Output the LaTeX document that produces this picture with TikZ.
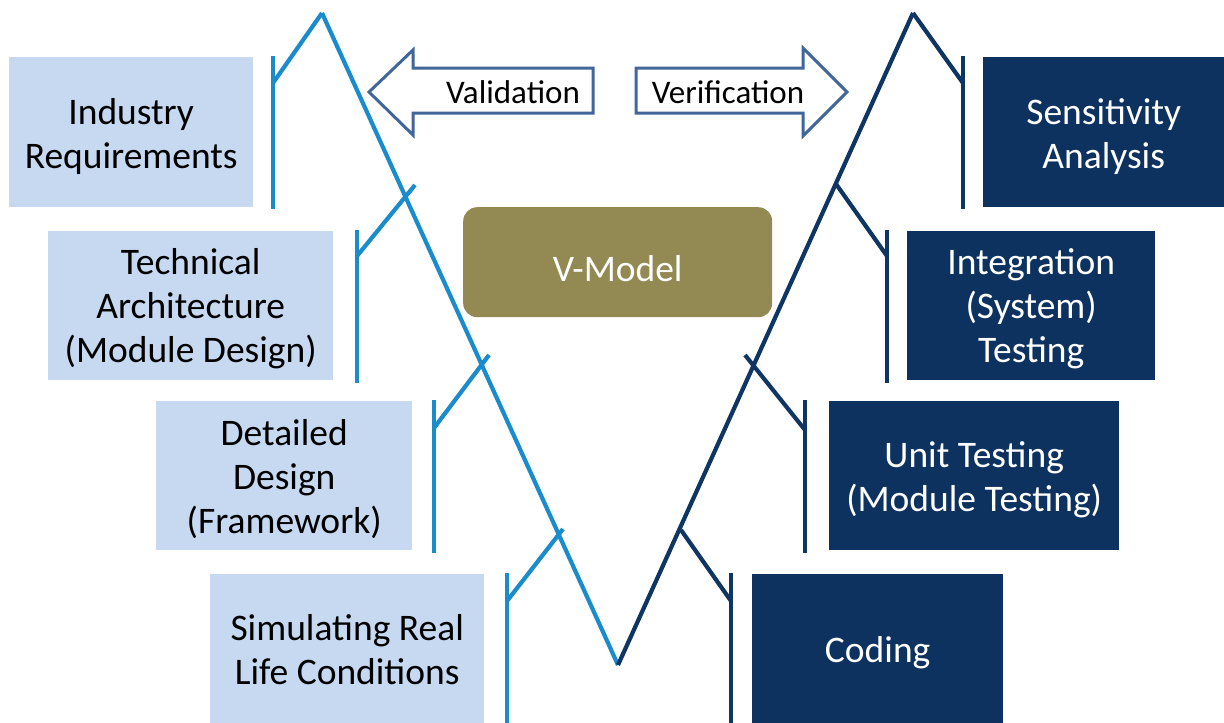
\documentclass[tikz,border=0pt]{standalone}
\usepackage{fontspec}
\setmainfont{Carlito}
\definecolor{lightbox}{HTML}{C6D9F1}
\definecolor{darkbox}{HTML}{0D325F}
\definecolor{lline}{HTML}{1A8CCB}
\definecolor{dline}{HTML}{0F3563}
\definecolor{arrowc}{HTML}{41679A}
\definecolor{olive}{HTML}{938953}
\begin{document}
\begin{tikzpicture}[x=1pt,y=-1pt,
  box/.style={anchor=north west, inner sep=0pt},
  lbox/.style={box, fill=lightbox},
  dbox/.style={box, fill=darkbox},
  btext/.style={align=center, inner sep=0pt, font=\fontsize{37.5}{44}\selectfont},
  ltext/.style={btext, text=black},
  dtext/.style={btext, text=white},
  lside/.style={draw=lline, line width=4.2pt},
  dside/.style={draw=dline, line width=4.2pt},
  bigarrow/.style={draw=arrowc, line width=3pt, fill=white, line join=miter},
  arrowtext/.style={font=\fontsize{33}{40}\selectfont, text=black, inner sep=0pt}
]
\useasboundingbox (0,0) rectangle (1224,723);

% left boxes
\node[lbox, minimum width=244pt, minimum height=150pt] (ir) at (9,57) {};
\node[ltext] (irt) at ([yshift=-4pt]ir.center) {Industry\\Requirements};
\node[lbox, minimum width=285pt, minimum height=149pt] (ta) at (48,231) {};
\node[ltext] (tat) at ([yshift=-3pt]ta.center) {Technical\\Architecture\\(Module Design)};
\node[lbox, minimum width=256pt, minimum height=149pt] (dd) at (156,401) {};
\node[ltext] (ddt) at ([yshift=-3pt]dd.center) {Detailed\\Design\\(Framework)};
\node[lbox, minimum width=274pt, minimum height=149pt] (sr) at (210,574) {};
\node[ltext] (srt) at ([yshift=-1pt]sr.center) {Simulating Real\\Life Conditions};

% right boxes
\node[dbox, minimum width=241pt, minimum height=150pt] (sa) at (983,57) {};
\node[dtext] (sat) at ([yshift=-4pt]sa.center) {Sensitivity\\Analysis};
\node[dbox, minimum width=248pt, minimum height=149pt] (it) at (907,231) {};
\node[dtext] (itt) at ([yshift=-3pt]it.center) {Integration\\(System)\\Testing};
\node[dbox, minimum width=290pt, minimum height=149pt] (ut) at (829,401) {};
\node[dtext] (utt) at ([yshift=-4pt]ut.center) {Unit Testing\\(Module Testing)};
\node[dbox, minimum width=251pt, minimum height=149pt] (co) at (752,574) {};
\node[dtext] (cot) at ([yshift=-4pt]co.center) {Coding};

% V-Model box
\node[anchor=north west, inner sep=0pt, fill=olive, rounded corners=14pt,
  minimum width=309pt, minimum height=110pt] (vm) at (463,207) {};
\node[dtext] (vmt) at ([yshift=-6pt]vm.center) {V-Model};

% V main lines
\coordinate (Ltop) at (322,13);
\coordinate (Vbot) at (618,665);
\coordinate (Rtop) at (913,13);
\draw[lside] (Ltop) -- (Vbot);
\draw[dside] (Vbot) -- (Rtop);

% left verticals and diagonals
\coordinate (l1t) at (273,56); \coordinate (l1b) at (273,209); \coordinate (l1j) at (273,83);
\coordinate (l2t) at (357,230); \coordinate (l2b) at (357,383); \coordinate (l2j) at (357,256); \coordinate (l2e) at (415,185);
\coordinate (l3t) at (434,400); \coordinate (l3b) at (434,553); \coordinate (l3j) at (434,428); \coordinate (l3e) at (489,355);
\coordinate (l4t) at (507,573); \coordinate (l4b) at (507,723); \coordinate (l4j) at (507,601); \coordinate (l4e) at (563,529);
\draw[lside] (l1t) -- (l1b);
\draw[lside] (l1j) -- (Ltop);
\draw[lside] (l2t) -- (l2b);
\draw[lside] (l2j) -- (l2e);
\draw[lside] (l3t) -- (l3b);
\draw[lside] (l3j) -- (l3e);
\draw[lside] (l4t) -- (l4b);
\draw[lside] (l4j) -- (l4e);

% right verticals and diagonals
\coordinate (r1t) at (963,56); \coordinate (r1b) at (963,209); \coordinate (r1j) at (963,83);
\coordinate (r2t) at (887,230); \coordinate (r2b) at (887,383); \coordinate (r2j) at (887,256); \coordinate (r2e) at (836,184);
\coordinate (r3t) at (805,400); \coordinate (r3b) at (805,553); \coordinate (r3j) at (805,430); \coordinate (r3e) at (745,355);
\coordinate (r4t) at (731,573); \coordinate (r4b) at (731,723); \coordinate (r4j) at (731,601); \coordinate (r4e) at (681,530);
\draw[dside] (r1t) -- (r1b);
\draw[dside] (Rtop) -- (r1j);
\draw[dside] (r2t) -- (r2b);
\draw[dside] (r2e) -- (r2j);
\draw[dside] (r3t) -- (r3b);
\draw[dside] (r3e) -- (r3j);
\draw[dside] (r4t) -- (r4b);
\draw[dside] (r4e) -- (r4j);

% block arrows
\draw[bigarrow] (593,68) -- (413,68) -- (413,50) -- (369,92) -- (413,135) -- (413,113) -- (593,113) -- cycle;
\node[arrowtext] (val) at (513,92) {Validation};
\draw[bigarrow] (636,68) -- (803,68) -- (803,48) -- (847,92) -- (803,136) -- (803,113) -- (636,113) -- cycle;
\node[arrowtext] (ver) at (728,92) {Verification};
\end{tikzpicture}
\end{document}
